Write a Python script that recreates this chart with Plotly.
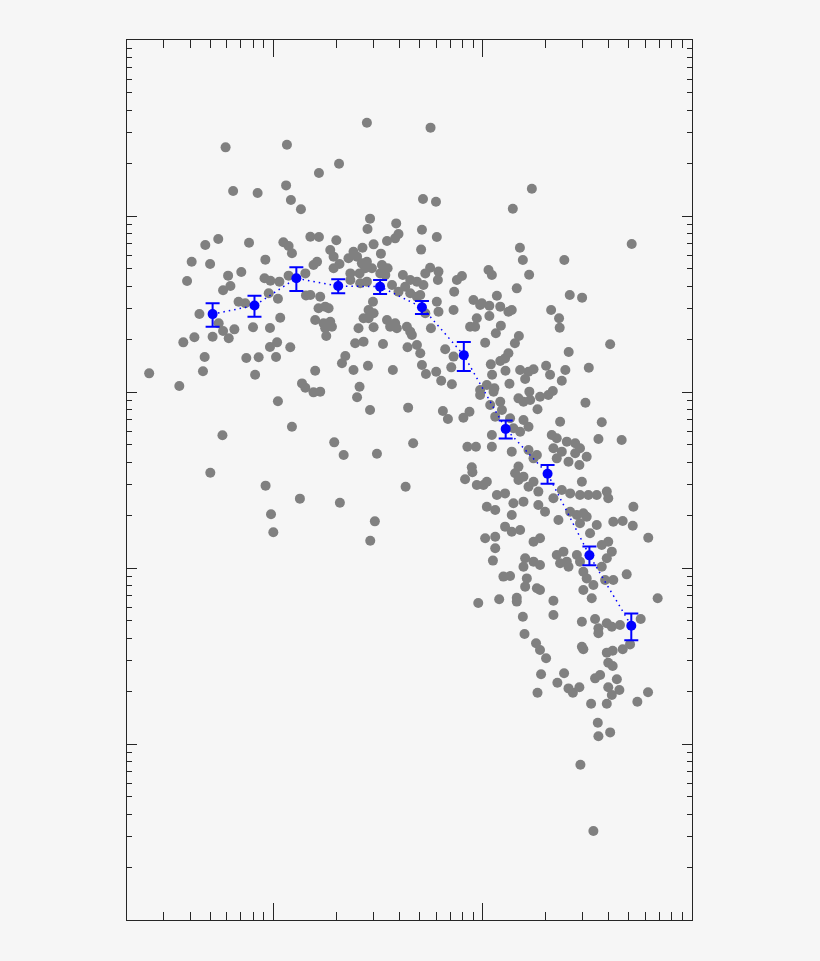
import numpy as np
import plotly.graph_objects as go

# ---- gray scatter points (log10 units) ----
left_log_x = [-0.228, 0.065, -0.192, -0.075, 0.061, 0.084, 0.132, -0.263, -0.325, -0.116,
              0.048, 0.073, 0.089, -0.390, -0.302, -0.038, -0.412, -0.216, -0.153, -0.240,
              -0.205, -0.042, -0.014, 0.029, 0.073, 0.153, -0.166, -0.134, -0.022, 0.022,
              0.156, -0.353, -0.261, -0.240, -0.186, -0.213, -0.097, -0.016, 0.033, -0.430,
              -0.377, -0.290, -0.016, 0.018, 0.081, -0.328, -0.129, -0.070, 0.013, -0.593,
              -0.336, -0.449, -0.087, 0.137, 0.153, 0.022, 0.089, -0.243, -0.301, -0.037,
              0.127, -0.011, 0.000]
left_log_y = [4.390, 4.405, 4.142, 4.131, 4.174, 4.091, 4.038, 3.869, 3.835, 3.848,
              3.851, 3.830, 3.788, 3.740, 3.727, 3.752, 3.631, 3.661, 3.682, 3.578,
              3.602, 3.646, 3.632, 3.627, 3.661, 3.674, 3.513, 3.504, 3.561, 3.530,
              3.549, 3.443, 3.390, 3.347, 3.356, 3.305, 3.368, 3.364, 3.422, 3.282,
              3.311, 3.314, 3.256, 3.282, 3.254, 3.199, 3.193, 3.197, 3.199, 3.106,
              3.118, 3.034, 3.098, 3.049, 3.024, 2.947, 2.803, 2.754, 2.541, 2.468,
              2.394, 2.305, 2.203]

mid_log_x = [0.447, 0.751, 0.314, 0.218, 0.715, 0.777, 0.462, 0.587, 0.450, 0.710,
             0.781, 0.598, 0.582, 0.543, 0.479, 0.301, 0.177, 0.218, 0.706, 0.514,
             0.426, 0.383, 0.359, 0.272, 0.288, 0.316, 0.288, 0.209, 0.192, 0.400,
             0.423, 0.447, 0.471, 0.439, 0.412, 0.368, 0.519, 0.546, 0.535, 0.511,
             0.749, 0.726, 0.789, 0.786, 0.901, 0.877, 0.864, 0.619, 0.654, 0.686,
             0.717, 0.630, 0.567, 0.598, 0.654, 0.686, 0.368, 0.415, 0.447, 0.224,
             0.248, 0.216, 0.264, 0.177, 0.476, 0.455, 0.479, 0.431, 0.455, 0.200,
             0.240, 0.272, 0.248, 0.280, 0.253, 0.407, 0.479, 0.543, 0.582, 0.558,
             0.590, 0.638, 0.654, 0.662, 0.702, 0.726, 0.781, 0.789, 0.753, 0.861,
             0.956, 0.988, 0.972, 0.940, 0.964, 0.391, 0.431, 0.524, 0.641, 0.686,
             0.702, 0.344, 0.821, 0.861,
             0.328, 0.200, 0.383, 0.452, 0.571, 0.710, 0.729, 0.778, 0.802, 0.853,
             0.850, 0.192, 0.224, 0.412, 0.400, 0.462, 0.644, 0.810, 0.834, 0.908,
             0.937, 0.988, 0.988, 1.036, 0.291, 0.336, 0.495, 0.668, 0.927, 0.968,
             0.948, 0.951, 0.916, 0.972, 0.632, 0.318, 0.485, 0.463, 0.979]
mid_log_y = [4.530, 4.502, 4.297, 4.244, 4.097, 4.081, 3.985, 3.958, 3.926, 3.922,
             3.881, 3.898, 3.873, 3.858, 3.839, 3.862, 3.882, 3.881, 3.809, 3.786,
             3.820, 3.797, 3.760, 3.807, 3.769, 3.727, 3.703, 3.740, 3.722, 3.769,
             3.731, 3.740, 3.703, 3.703, 3.674, 3.674, 3.722, 3.703, 3.665, 3.674,
             3.706, 3.674, 3.684, 3.636, 3.659, 3.636, 3.570, 3.665, 3.636, 3.627,
             3.608, 3.598, 3.608, 3.570, 3.561, 3.541, 3.636, 3.618, 3.627, 3.541,
             3.485, 3.476, 3.476, 3.551, 3.513, 3.466, 3.447, 3.419, 3.419, 3.409,
             3.390, 3.399, 3.362, 3.371, 3.318, 3.362, 3.368, 3.409, 3.390, 3.371,
             3.362, 3.371, 3.343, 3.324, 3.551, 3.447, 3.513, 3.456, 3.362, 3.466,
             3.523, 3.494, 3.419, 3.371, 3.371, 3.277, 3.286, 3.273, 3.254, 3.267,
             3.220, 3.205, 3.243, 3.201,
             3.163, 3.121, 3.125, 3.149, 3.125, 3.153, 3.102, 3.115, 3.064, 3.044,
             3.140, 2.998, 3.002, 3.030, 2.970, 2.898, 2.911, 2.892, 2.847, 2.854,
             2.888, 3.011, 2.983, 2.926, 2.714, 2.642, 2.649, 2.709, 2.689, 2.689,
             2.572, 2.544, 2.504, 2.472, 2.462, 2.371, 2.265, 2.155, 1.801]

upper_right_log_x = [1.235, 1.144, 1.712, 1.178, 1.192, 1.390, 1.028, 1.044, 1.222, 1.163,
                     1.416, 1.475, 1.068, 0.996, 1.032, 1.084, 1.123, 1.139, 1.032, 1.327,
                     1.365, 1.368, 1.087, 1.063, 1.173, 1.154, 1.012, 1.609, 1.411, 1.123,
                     1.107, 1.084, 1.039, 1.045, 1.109, 1.128, 1.179, 1.203, 1.243, 1.219,
                     1.303, 1.322, 1.395, 1.378, 1.507, 1.020, 1.056, 1.052, 1.223, 1.171,
                     1.195, 1.227, 1.274, 1.314, 1.335, 1.262, 1.491, 1.084, 1.092, 1.131]
upper_right_log_y = [4.155, 4.041, 3.841, 3.820, 3.750, 3.750, 3.693, 3.665, 3.666, 3.589,
                     3.551, 3.536, 3.547, 3.504, 3.490, 3.485, 3.456, 3.466, 3.432, 3.466,
                     3.419, 3.365, 3.377, 3.334, 3.318, 3.277, 3.280, 3.271, 3.227, 3.220,
                     3.191, 3.176, 3.157, 3.098, 3.121, 3.047, 3.125, 3.074, 3.129, 3.115,
                     3.149, 3.098, 3.125, 3.064, 3.138, 3.040, 3.021, 3.002, 3.002, 2.964,
                     2.945, 2.955, 2.973, 2.983, 3.006, 2.902, 2.939, 2.945, 2.898, 2.851]

lower_right_log_x = [1.060, 1.147, 1.179, 1.219, 1.195, 1.370, 1.569, 1.044, 1.044, 1.330,
                     1.354, 1.402, 1.442, 1.465, 1.497, 1.442, 1.338, 1.378, 1.410, 1.354,
                     1.462, 1.553, 1.664, 1.139, 1.219, 1.259, 1.243, 1.171, 1.155, 1.195,
                     1.243, 1.171, 1.020, 1.004, 1.068, 1.107, 1.219, 1.266, 1.338, 1.378,
                     1.418, 1.465, 1.505, 1.545, 1.593, 1.600, 1.474, 1.720, 1.020, 1.060,
                     1.147, 1.139, 1.195, 1.266, 1.298, 1.362, 1.418, 1.450, 1.481, 1.497,
                     1.545, 1.513, 1.465, 1.624, 1.669, 1.717, 1.791, 1.107, 1.139, 1.179,
                     1.012, 1.060, 1.060, 1.049, 1.243, 1.274, 1.203, 1.243, 1.274, 1.195,
                     1.354, 1.386, 1.402, 1.370, 1.410, 1.450, 1.465, 1.569, 1.600, 1.617,
                     1.593, 1.569, 1.481, 1.497, 1.529, 1.481, 1.521, 1.585, 1.624, 1.688,
                     1.099, 1.131, 1.211, 1.203, 1.274, 1.259, 1.079, 1.163, 1.163, 1.338,
                     1.338, 1.192, 1.836, 1.474, 1.537, 1.553, 1.593, 1.617, 1.656, 1.553,
                     1.755, 1.200, 1.474, 1.481, 1.255, 1.274, 1.303, 1.593, 1.621, 1.669,
                     1.704, 1.600, 1.621, 1.279, 1.389, 1.357, 1.537, 1.561, 1.641, 1.410,
                     1.431, 1.462, 1.600, 1.617, 1.653, 1.262, 1.518, 1.593, 1.739, 1.790,
                     1.550, 1.553, 1.609, 1.467, 1.529]
lower_right_log_y = [2.860, 2.794, 2.774, 2.803, 2.841, 2.831, 2.828, 2.756, 2.689, 2.756,
                     2.737, 2.718, 2.709, 2.680, 2.632, 2.652, 2.680, 2.661, 2.604, 2.623,
                     2.585, 2.733, 2.727, 2.661, 2.670, 2.642, 2.623, 2.576, 2.538, 2.519,
                     2.490, 2.500, 2.490, 2.472, 2.415, 2.424, 2.462, 2.434, 2.396, 2.443,
                     2.424, 2.415, 2.415, 2.415, 2.434, 2.396, 2.490, 2.348, 2.348, 2.330,
                     2.368, 2.301, 2.377, 2.358, 2.320, 2.273, 2.320, 2.301, 2.311, 2.291,
                     2.244, 2.197, 2.254, 2.263, 2.267, 2.240, 2.172, 2.235, 2.206, 2.216,
                     2.169, 2.178, 2.112, 2.042, 2.149, 2.169, 2.055, 2.036, 2.017, 2.007,
                     2.074, 2.093, 2.036, 2.027, 2.007, 2.074, 2.036, 2.131, 2.149, 2.093,
                     2.055, 2.007, 1.979, 1.941, 1.903, 1.875, 1.828, 1.932, 1.932, 1.964,
                     1.951, 1.955, 1.941, 1.894, 1.875, 1.885, 1.822, 1.831, 1.809, 1.814,
                     1.733, 1.723, 1.828, 1.695, 1.710, 1.657, 1.686, 1.666, 1.676, 1.629,
                     1.710, 1.625, 1.553, 1.538, 1.572, 1.534, 1.487, 1.519, 1.530, 1.538,
                     1.566, 1.462, 1.443, 1.396, 1.402, 1.348, 1.373, 1.392, 1.368, 1.316,
                     1.291, 1.322, 1.322, 1.278, 1.307, 1.291, 1.229, 1.229, 1.240, 1.294,
                     1.121, 1.044, 1.066, 0.882, 0.506]

# ---- blue binned means with error bars ----
mean_log_x = [-0.29, -0.09, 0.11, 0.31, 0.51, 0.71, 0.91, 1.11, 1.31, 1.51, 1.71]
mean_y = [2770, 3100, 4430, 4000, 3966, 3030, 1620, 617, 343, 118, 47]
mean_err = [425, 425, 680, 365, 362, 258, 303, 72, 42, 14.5, 8.2]

for a, b in [(left_log_x, left_log_y), (mid_log_x, mid_log_y),
             (upper_right_log_x, upper_right_log_y), (lower_right_log_x, lower_right_log_y)]:
    if len(a) != len(b):
        raise ValueError(f"length mismatch {len(a)} vs {len(b)}")

gray_x = 10 ** np.array(left_log_x + mid_log_x + upper_right_log_x + lower_right_log_x)
gray_y = 10 ** np.array(left_log_y + mid_log_y + upper_right_log_y + lower_right_log_y)
mean_x = 10 ** np.array(mean_log_x)

x_major = [1, 10, 100]
y_major = [1, 10, 100, 1000, 10000, 100000]
x_minor = [k * 10.0 ** d for d in (-1, 0, 1) for k in range(2, 10) if 0.2 <= k * 10.0 ** d <= 100]
y_minor = [k * 10.0 ** d for d in range(0, 5) for k in range(2, 10)]

BG = "#f6f6f6"
AX = "#262626"

fig = go.Figure()
fig.add_trace(go.Scatter(
    x=gray_x, y=gray_y, mode="markers",
    marker=dict(color="#808080", size=10, line=dict(width=0)),
    hoverinfo="skip", showlegend=False))
fig.add_trace(go.Scatter(
    x=mean_x, y=mean_y, mode="lines+markers",
    line=dict(color="#0000ff", width=1.5, dash="1.5px,4px"),
    marker=dict(color="#0000ff", size=10),
    error_y=dict(type="data", array=mean_err, color="#0000ff", thickness=2, width=7),
    showlegend=False))

common = dict(type="log", showgrid=False, zeroline=False, showline=True,
              linecolor=AX, linewidth=1, mirror="allticks", ticks="inside",
              tickcolor=AX, tickwidth=1, showticklabels=False, tickmode="array")

fig.update_xaxes(**common, range=[np.log10(0.2), 2], tickvals=x_major, ticklen=17,
                 minor=dict(tickmode="array", tickvals=x_minor, ticks="inside",
                            ticklen=8, tickcolor=AX, tickwidth=1, showgrid=False))
fig.update_yaxes(**common, range=[0, 5], tickvals=y_major, ticklen=10,
                 minor=dict(tickmode="array", tickvals=y_minor, ticks="inside",
                            ticklen=5, tickcolor=AX, tickwidth=1, showgrid=False))

fig.update_layout(width=820, height=961,
                  margin=dict(l=127, r=128, t=40, b=41),
                  paper_bgcolor=BG, plot_bgcolor=BG, showlegend=False)

page_style = ("document.body.style.margin='0';"
              "document.body.style.padding='0';"
              "document.body.style.overflow='hidden';"
              "document.body.style.background='" + BG + "';"
              "document.documentElement.style.background='" + BG + "';")

fig.write_html("out.html", post_script=page_style, config={"displayModeBar": False})
